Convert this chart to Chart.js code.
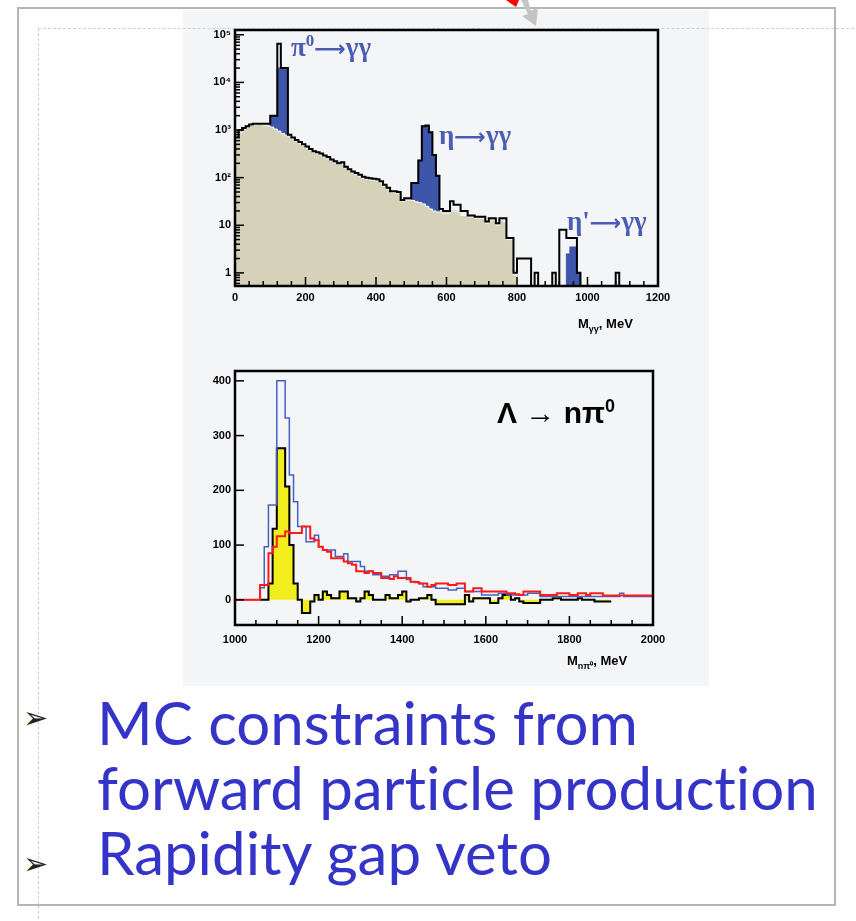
<!DOCTYPE html>
<html>
<head>
<meta charset="utf-8">
<script src="https://cdn.jsdelivr.net/npm/chart.js@4.4.1/dist/chart.umd.min.js"></script>
<style>
  body { margin: 0; width: 856px; height: 921px; background: #fff; position: relative; overflow: hidden;
         font-family: "Liberation Sans", Arial, sans-serif; }
  .abs { position: absolute; }
  #slide { left: 17px; top: 7px; width: 819px; height: 899px; border: 2px solid #b5b5b5; box-sizing: border-box; }
  #ruler { left: 38px; top: 28px; width: 830px; height: 900px; border-left: 1px dashed #cfcfcf; border-top: 1px dashed #cfcfcf; }
  #img { left: 183px; top: 10px; width: 526px; height: 676px; background: #f4f5f7; }
  canvas { position: absolute; }
  .peak { color: #4a5cb4; font-family: "Liberation Serif", serif; font-weight: bold; font-size: 27px; white-space: nowrap; }
  .peak .arr { font-family: "DejaVu Sans", sans-serif; font-weight: bold; font-size: 22px; }
  .axt { font-weight: bold; font-size: 13px; white-space: nowrap; }
  .bul { left: 23px; font-size: 30px; color: #222; font-family: "DejaVu Sans", sans-serif; line-height: 1; }
  .txt { left: 97px; color: #3434c8; font-family: "Comic Sans MS", "Lato", sans-serif; font-size: 50px; white-space: nowrap;
         line-height: 1; font-variant-ligatures: none; }
</style>
</head>
<body>
<div id="slide" class="abs"></div>
<div id="img" class="abs"></div>
<div id="ruler" class="abs"></div>
<svg class="abs" style="left:0;top:0" width="856" height="40">
  <polygon points="506,0 519,0 516,7" fill="#ff0000"/>
  <polygon points="521,0 528,0 531,11 538,7 536,26 522,16 528,14" fill="#c4c4c4"/>
</svg>

<canvas id="gg" width="526" height="330" style="left:183px;top:10px"></canvas>
<canvas id="lam" width="526" height="345" style="left:183px;top:340px"></canvas>

<div class="abs peak" style="left:291px;top:31px">π<sup style="font-size:17px">0</sup><span class="arr">⟶</span>γγ</div>
<div class="abs peak" style="left:439px;top:120px">η<span class="arr">⟶</span>γγ</div>
<div class="abs peak" style="left:567px;top:206px">η'<span class="arr">⟶</span>γγ</div>
<div class="abs axt" style="left:578px;top:316px">M<sub style="font-size:9px">γγ</sub>, MeV</div>

<div class="abs" style="left:497px;top:396px;font-weight:bold;font-size:30px;white-space:nowrap">Λ → nπ<sup style="font-size:18px">0</sup></div>
<div class="abs axt" style="left:567px;top:653px">M<sub style="font-size:9px">nπ⁰</sub>, MeV</div>

<div class="abs bul" style="top:703px">➢</div>
<div class="abs bul" style="top:849px">➢</div>
<div class="abs txt" id="l1" style="top:692px">MC constraints from</div>
<div class="abs txt" id="l2" style="top:757px">forward particle production</div>
<div class="abs txt" id="l3" style="top:822px">Rapidity gap veto</div>

<script>
// M(gamma gamma) spectrum, 10 MeV bins from 0 to 1200
const ggBinStart = 0;
const ggBinWidth = 10;
const ggData = [
  700, 1000, 1100, 1200, 1300, 1350, 1350, 1350, 1350, 1350,
  2000, 2000, 65000, 20000, 20000, 800, 700, 620, 560, 500,
  450, 400, 360, 340, 320, 290, 270, 240, 220, 200,
  210, 170, 150, 135, 125, 115, 105, 100, 97, 95,
  92, 84, 71, 61, 52, 52, 50, 34, 37, 37,
  77, 77, 230, 1200, 1250, 900, 300, 110, 22, 20,
  20, 32, 27, 27, 20, 20, 16, 16, 15, 15,
  15, 12, 14, 14, 11, 14, 14, 5.4, 5.4, 1,
  2, 2, 2, 2, 0, 1, 0, 0, 0, 0,
  1, 0, 8, 8, 5.4, 5.4, 5.4, 1, 0, 0,
  0, 0, 0, 0, 0, 0, 0, 0, 1, 0,
  0, 0, 0, 0, 0, 0, 0, 0, 0, 0
];
// background + signal (blue)
const ggSignal = [
  600, 900, 1100, 1200, 1250, 1300, 1300, 1300, 1250, 1200,
  2000, 2000, 20000, 20000, 20000, 720, 650, 580, 520, 470,
  420, 380, 340, 320, 300, 270, 250, 225, 205, 190,
  190, 160, 140, 125, 115, 105, 98, 93, 90, 88,
  85, 78, 66, 57, 49, 48, 46, 32, 34, 34,
  77, 77, 230, 1200, 1200, 900, 300, 110, 19, 18,
  18, 20, 20, 19, 16, 16, 15, 15, 14, 14,
  14, 11, 13, 13, 10, 13, 12, 5, 5, 0.9,
  0, 0, 0, 0, 0, 0, 0, 0, 0, 0,
  0, 0, 0, 0, 2.5, 3.5, 3.5, 1, 0, 0,
  0, 0, 0, 0, 0, 0, 0, 0, 0, 0,
  0, 0, 0, 0, 0, 0, 0, 0, 0, 0
];
// background (tan)
const ggBackground = [
  600, 900, 1100, 1200, 1250, 1300, 1300, 1300, 1250, 1200,
  1150, 1050, 950, 850, 780, 720, 650, 580, 520, 470,
  420, 380, 340, 320, 300, 270, 250, 225, 205, 190,
  190, 160, 140, 125, 115, 105, 98, 93, 90, 88,
  85, 78, 66, 57, 49, 48, 46, 32, 34, 34,
  33, 31, 30, 28, 25, 22, 20, 19, 19, 18,
  18, 20, 20, 19, 16, 16, 15, 15, 14, 14,
  14, 11, 13, 13, 10, 13, 12, 5, 5, 0.9,
  0, 0, 0, 0, 0, 0, 0, 0, 0, 0,
  0, 0, 0, 0, 0, 0, 0, 0, 0, 0,
  0, 0, 0, 0, 0, 0, 0, 0, 0, 0,
  0, 0, 0, 0, 0, 0, 0, 0, 0, 0
];
const ggXTicks = [0, 200, 400, 600, 800, 1000, 1200];
const ggYTicks = [1, 10, 100, 1000, 10000, 100000];
const ggYLabels = ['1', '10', '10²', '10³', '10⁴', '10⁵'];
const ggYMin = 0.53, ggYMax = 126000;

// M(n pi0) spectrum, 10 MeV bins from 1000 to 2000
const lamBinStart = 1000;
const lamBinWidth = 10;
const lamBlue = [
  0, 0, 0, 0, 0, 0, 22, 97, 173, 173,
  400, 400, 332, 228, 179, 134, 134, 106, 106, 118,
  97, 91, 91, 91, 79, 79, 84, 70, 70, 70,
  61, 52, 52, 46, 46, 43, 43, 46, 46, 52,
  52, 37, 33, 33, 30, 24, 24, 24, 21, 21,
  21, 18, 18, 21, 21, 15, 15, 15, 15, 9,
  9, 9, 9, 12, 12, 9, 9, 9, 9, 9,
  12, 12, 12, 6, 6, 6, 6, 6, 6, 6,
  6, 6, 6, 6, 6, 6, 6, 6, 6, 6,
  6, 6, 12, 6, 6, 6, 6, 6, 6, 6
];
const lamRed = [
  0, 0, 0, 0, 0, 0, 27, 27, 85, 97,
  116, 116, 125, 122, 122, 122, 134, 134, 112, 109,
  97, 91, 88, 76, 76, 76, 70, 67, 64, 52,
  52, 49, 52, 49, 49, 40, 40, 38, 43, 40,
  40, 40, 33, 32, 30, 30, 24, 27, 30, 30,
  30, 27, 27, 30, 30, 15, 15, 21, 21, 15,
  15, 15, 15, 15, 15, 12, 12, 10, 9, 15,
  15, 15, 15, 9, 9, 9, 9, 12, 12, 12,
  9, 9, 12, 12, 9, 12, 12, 12, 8, 8,
  8, 8, 8, 8, 8, 8, 8, 8, 8, 8
];
const lamDiff = [
  null, null, null, null, null, null, 0, 0, 30, 130,
  277, 277, 207, 100, 30, 0, -24, -24, -3, 9,
  0, 15, 9, 3, 3, 15, 15, 3, 3, -3,
  3, 15, 9, 0, 0, 0, 9, 3, 3, 9,
  15, -3, 0, 0, 3, 3, 9, 0, -8, -8,
  -8, -8, -8, -8, -8, 9, -3, 3, 3, 3,
  3, -6, -6, 3, 9, 9, 0, 3, -3, -6,
  -6, -6, -6, 0, 0, 0, 3, 3, 0, 0,
  0, 0, 3, 0, 0, 0, -3, -3, -3, -3,
  null, null, null, null, null, null, null, null, null, null
];
const lamXTicks = [1000, 1200, 1400, 1600, 1800, 2000];
const lamYTicks = [0, 100, 200, 300, 400];
const lamYMin = -46, lamYMax = 418;

// histogram -> stepped points (left edge of each bin, closing point at the end)
function steps(values, start, width, floor) {
  const pts = [];
  values.forEach((v, i) => {
    let y = v;
    if (floor !== undefined && v !== null && v <= 0) y = floor;
    pts.push({x: start + i * width, y: y});
    const next = values[i + 1];
    if (v !== null && (next === undefined || next === null)) {
      pts.push({x: start + (i + 1) * width, y: y});
    }
  });
  return pts;
}

// ROOT-like frame with inward ticks
const rootFrame = {
  id: 'rootFrame',
  afterDraw(chart, args, opts) {
    const {ctx, chartArea: a, scales} = chart;
    ctx.save();
    ctx.strokeStyle = '#000';
    ctx.lineWidth = 1.5;
    const tick = (x1, y1, x2, y2) => { ctx.beginPath(); ctx.moveTo(x1, y1); ctx.lineTo(x2, y2); ctx.stroke(); };
    for (let v = scales.x.min; v <= scales.x.max + 1e-6; v += opts.xMinor) {
      const p = scales.x.getPixelForValue(v);
      const major = Math.abs((v - scales.x.min) % opts.xMajor) < 1e-6;
      tick(p, a.bottom, p, a.bottom - (major ? 9 : 5));
    }
    if (opts.logY) {
      for (let e = -1; e <= 5; e++) {
        for (let k = 1; k <= 9; k++) {
          const v = k * Math.pow(10, e);
          if (v < scales.y.min || v > scales.y.max) continue;
          const p = scales.y.getPixelForValue(v);
          tick(a.left, p, a.left + (k === 1 ? 9 : 5), p);
        }
      }
    } else {
      opts.yMajors.forEach(v => {
        const p = scales.y.getPixelForValue(v);
        tick(a.left, p, a.left + 9, p);
      });
    }
    ctx.lineWidth = 2.5;
    ctx.strokeRect(a.left, a.top, a.right - a.left, a.bottom - a.top);
    ctx.restore();
  }
};

const tickFont = {family: 'Liberation Sans', weight: 'bold', size: 11};
const plainLabel = v => String(v);

new Chart(document.getElementById('gg'), {
  type: 'line',
  data: {
    datasets: [
      { data: steps(ggData, ggBinStart, ggBinWidth, ggYMin), borderColor: '#000', borderWidth: 2,
        fill: false, order: 0 },
      { data: steps(ggBackground, ggBinStart, ggBinWidth, ggYMin), borderColor: '#ffffff', borderWidth: 1,
        backgroundColor: '#d6d1b9', fill: 'start', order: 1 },
      { data: steps(ggSignal, ggBinStart, ggBinWidth, ggYMin), borderColor: '#3e56aa', borderWidth: 1,
        backgroundColor: '#3e56aa', fill: 'start', order: 2 }
    ]
  },
  options: {
    responsive: false,
    animation: false,
    devicePixelRatio: 1,
    layout: { padding: { top: 20, right: 51, left: 0, bottom: 0 } },
    elements: { point: { radius: 0 }, line: { stepped: true, tension: 0 } },
    plugins: { legend: { display: false }, tooltip: { enabled: false },
      rootFrame: { xMinor: 40, xMajor: 200, logY: true } },
    scales: {
      x: {
        type: 'linear', min: 0, max: 1200,
        grid: { display: false, drawTicks: false }, border: { display: false },
        afterBuildTicks: s => { s.ticks = ggXTicks.map(v => ({value: v})); },
        afterFit: s => { s.height = 54; },
        ticks: { color: '#000', font: tickFont, padding: 5, maxRotation: 0, autoSkip: false, callback: plainLabel }
      },
      y: {
        type: 'logarithmic', min: ggYMin, max: ggYMax,
        grid: { display: false, drawTicks: false }, border: { display: false },
        afterBuildTicks: s => { s.ticks = ggYTicks.map(v => ({value: v})); },
        afterFit: s => { s.width = 52; },
        ticks: { color: '#000', font: tickFont, padding: 4, autoSkip: false,
          callback: v => ggYLabels[ggYTicks.indexOf(v)] }
      }
    }
  },
  plugins: [rootFrame]
});

new Chart(document.getElementById('lam'), {
  type: 'line',
  data: {
    datasets: [
      { data: steps(lamRed, lamBinStart, lamBinWidth), borderColor: '#ff1a1a', borderWidth: 2,
        fill: false, order: 0 },
      { data: steps(lamBlue, lamBinStart, lamBinWidth), borderColor: '#4462c4', borderWidth: 1.5,
        fill: false, order: 1 },
      { data: steps(lamDiff, lamBinStart, lamBinWidth), borderColor: '#000', borderWidth: 2,
        backgroundColor: '#f2ee1e', fill: 'origin', order: 2 }
    ]
  },
  options: {
    responsive: false,
    animation: false,
    devicePixelRatio: 1,
    layout: { padding: { top: 31, right: 56, left: 0, bottom: 0 } },
    elements: { point: { radius: 0 }, line: { stepped: true, tension: 0 } },
    plugins: { legend: { display: false }, tooltip: { enabled: false },
      rootFrame: { xMinor: 50, xMajor: 200, logY: false, yMajors: lamYTicks } },
    scales: {
      x: {
        type: 'linear', min: 1000, max: 2000,
        grid: { display: false, drawTicks: false }, border: { display: false },
        afterBuildTicks: s => { s.ticks = lamXTicks.map(v => ({value: v})); },
        afterFit: s => { s.height = 60; },
        ticks: { color: '#000', font: tickFont, padding: 8, maxRotation: 0, autoSkip: false, callback: plainLabel }
      },
      y: {
        type: 'linear', min: lamYMin, max: lamYMax,
        grid: { display: false, drawTicks: false }, border: { display: false },
        afterBuildTicks: s => { s.ticks = lamYTicks.map(v => ({value: v})); },
        afterFit: s => { s.width = 52; },
        ticks: { color: '#000', font: tickFont, padding: 4, autoSkip: false, callback: plainLabel }
      }
    }
  },
  plugins: [rootFrame]
});

// fit the bullet text to the slide width of the longest line
const l2 = document.getElementById('l2');
const fs = 50 * 721 / l2.getBoundingClientRect().width;
['l1', 'l2', 'l3'].forEach(id => { document.getElementById(id).style.fontSize = fs + 'px'; });
</script>
</body>
</html>
